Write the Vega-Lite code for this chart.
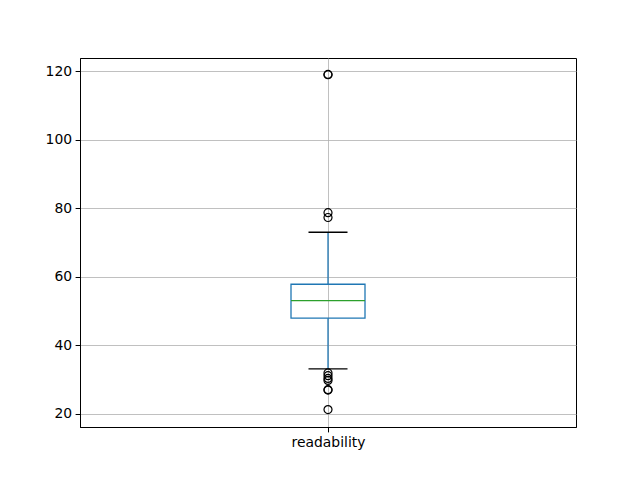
{
  "$schema": "https://vega.github.io/schema/vega-lite/v6.json",
  "width": 496,
  "height": 369,
  "autosize": {"type": "none"},
  "padding": {"left": 80, "top": 58, "right": 64, "bottom": 53},
  "background": "white",
  "config": {
    "view": {"stroke": "black", "strokeWidth": 1},
    "axis": {
      "domainColor": "black",
      "tickColor": "black",
      "tickSize": 4.9,
      "labelPadding": 3.5,
      "labelFont": "DejaVu Sans",
      "labelFontSize": 13.9,
      "labelColor": "black",
      "gridColor": "#b0b0b0",
      "gridWidth": 0.8,
      "gridOpacity": 1,
      "title": null
    }
  },
  "datasets": {
    "stats": [
      {"var": "readability", "lower": 33.1, "q1": 47.9, "median": 53.0, "q3": 57.8, "upper": 73.0}
    ],
    "fliers": [
      {"var": "readability", "value": 119.1},
      {"var": "readability", "value": 119.0},
      {"var": "readability", "value": 78.7},
      {"var": "readability", "value": 77.3},
      {"var": "readability", "value": 31.9},
      {"var": "readability", "value": 31.1},
      {"var": "readability", "value": 30.3},
      {"var": "readability", "value": 29.7},
      {"var": "readability", "value": 27.0},
      {"var": "readability", "value": 26.9},
      {"var": "readability", "value": 21.2}
    ]
  },
  "encoding": {
    "x": {
      "field": "var",
      "type": "nominal",
      "scale": {"type": "point", "padding": 0.5},
      "axis": {"labelAngle": 0, "grid": true}
    }
  },
  "layer": [
    {
      "data": {"name": "stats"},
      "mark": {"type": "rule", "color": "#1f77b4", "strokeWidth": 1.3, "opacity": 1},
      "encoding": {
        "y": {"field": "lower", "type": "quantitative", "scale": {"domain": [16.1, 123.9], "nice": false, "zero": false}, "axis": {"values": [20, 40, 60, 80, 100, 120], "grid": true}},
        "y2": {"field": "q1"}
      }
    },
    {
      "data": {"name": "stats"},
      "mark": {"type": "rule", "color": "#1f77b4", "strokeWidth": 1.3, "opacity": 1},
      "encoding": {
        "y": {"field": "q3", "type": "quantitative"},
        "y2": {"field": "upper"}
      }
    },
    {
      "data": {"name": "stats"},
      "mark": {"type": "bar", "size": 74, "fillOpacity": 0, "stroke": "#1f77b4", "strokeWidth": 1.3, "strokeOpacity": 1},
      "encoding": {
        "y": {"field": "q1", "type": "quantitative"},
        "y2": {"field": "q3"}
      }
    },
    {
      "data": {"name": "stats"},
      "mark": {"type": "tick", "size": 74, "thickness": 1.3, "color": "#2ca02c", "orient": "horizontal", "opacity": 1},
      "encoding": {
        "y": {"field": "median", "type": "quantitative"}
      }
    },
    {
      "data": {"name": "stats"},
      "mark": {"type": "tick", "size": 39, "thickness": 1.3, "color": "black", "orient": "horizontal", "opacity": 1},
      "encoding": {
        "y": {"field": "lower", "type": "quantitative"}
      }
    },
    {
      "data": {"name": "stats"},
      "mark": {"type": "tick", "size": 39, "thickness": 1.3, "color": "black", "orient": "horizontal", "opacity": 1},
      "encoding": {
        "y": {"field": "upper", "type": "quantitative"}
      }
    },
    {
      "data": {"name": "fliers"},
      "mark": {"type": "point", "shape": "circle", "size": 64, "filled": false, "stroke": "black", "strokeWidth": 1.2, "opacity": 1},
      "encoding": {
        "y": {"field": "value", "type": "quantitative"}
      }
    }
  ]
}
